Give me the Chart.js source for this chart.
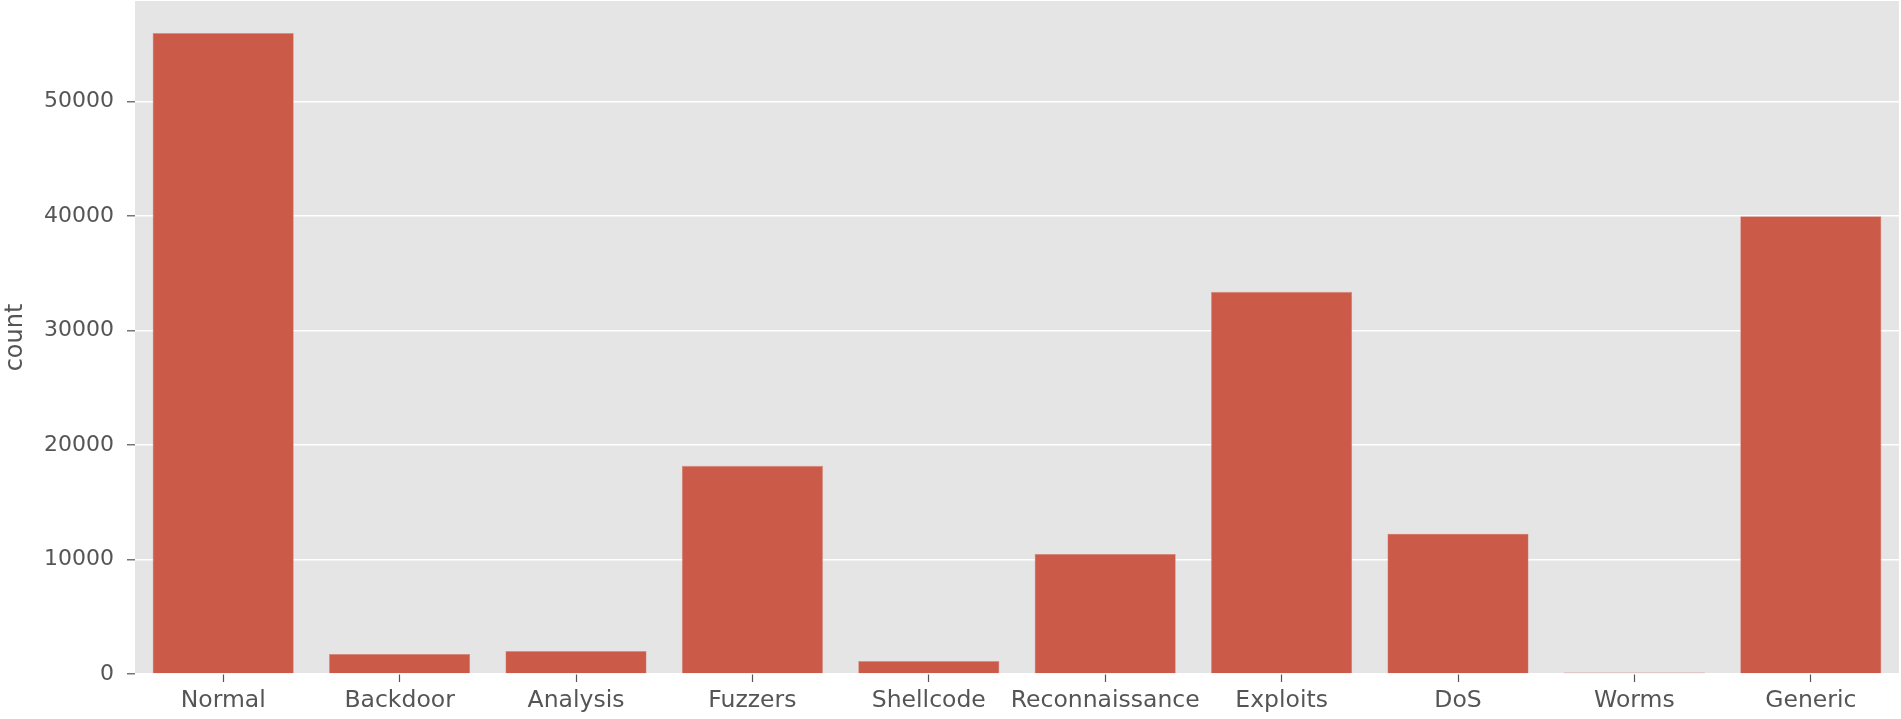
<!DOCTYPE html>
<html>
<head>
<meta charset="utf-8">
<script src="https://cdn.jsdelivr.net/npm/chart.js@4.4.1/dist/chart.umd.min.js"></script>
<style>
  html, body { margin: 0; padding: 0; background: #ffffff; }
  #wrap { width: 1901px; height: 719px; position: relative; }
</style>
</head>
<body>
<div id="wrap"><canvas id="c"></canvas></div>
<script>
const categories = ["Normal", "Backdoor", "Analysis", "Fuzzers", "Shellcode", "Reconnaissance", "Exploits", "DoS", "Worms", "Generic"];
const counts = [56000, 1746, 2000, 18184, 1133, 10491, 33393, 12264, 130, 40000];
const yTickValues = [0, 10000, 20000, 30000, 40000, 50000];
const yMax = 58800;

const bgPlugin = {
  id: 'plotBg',
  beforeDraw(chart) {
    const { ctx, chartArea: a } = chart;
    ctx.save();
    ctx.fillStyle = '#E5E5E5';
    ctx.fillRect(a.left, a.top, a.right - a.left, a.bottom - a.top);
    ctx.restore();
  }
};

const xFont = { family: '"DejaVu Sans", sans-serif', size: 23.5 };
const yFont = { family: '"DejaVu Sans", sans-serif', size: 22 };

new Chart(document.getElementById('c'), {
  type: 'bar',
  data: {
    labels: categories,
    datasets: [{
      label: 'count',
      data: counts,
      backgroundColor: '#CC5A48',
      borderColor: '#D98A7E',
      borderWidth: 0.6,
      barPercentage: 0.8,
      categoryPercentage: 1.0
    }]
  },
  options: {
    responsive: true,
    maintainAspectRatio: false,
    animation: false,
    layout: { padding: { top: 1, right: 2, left: 0, bottom: 0 } },
    plugins: { legend: { display: false }, tooltip: { enabled: false } },
    scales: {
      x: {
        border: { display: false },
        grid: { offset: false, drawOnChartArea: false, drawTicks: true, tickLength: 8, tickColor: '#555555', tickWidth: 1.2 },
        ticks: { color: '#555555', font: xFont, padding: 5, maxRotation: 0, autoSkip: false },
        afterFit(scale) { scale.height = 45; scale.paddingLeft = 0; scale.paddingRight = 0; }
      },
      y: {
        min: 0,
        max: yMax,
        border: { display: false },
        grid: { color: '#FFFFFF', lineWidth: 1.6, drawTicks: true, tickLength: 8, tickColor: '#555555', tickWidth: 1.2 },
        ticks: { color: '#555555', font: yFont, padding: 13, callback: v => String(v) },
        afterBuildTicks(scale) { scale.ticks = yTickValues.map(v => ({ value: v })); },
        title: { display: true, text: 'count', color: '#555555', font: { family: '"DejaVu Sans", sans-serif', size: 24 }, padding: { top: 1, bottom: 0 } },
        afterFit(scale) { scale.width = 135; scale.paddingTop = 0; scale.paddingBottom = 0; }
      }
    }
  },
  plugins: [bgPlugin]
});
</script>
</body>
</html>
